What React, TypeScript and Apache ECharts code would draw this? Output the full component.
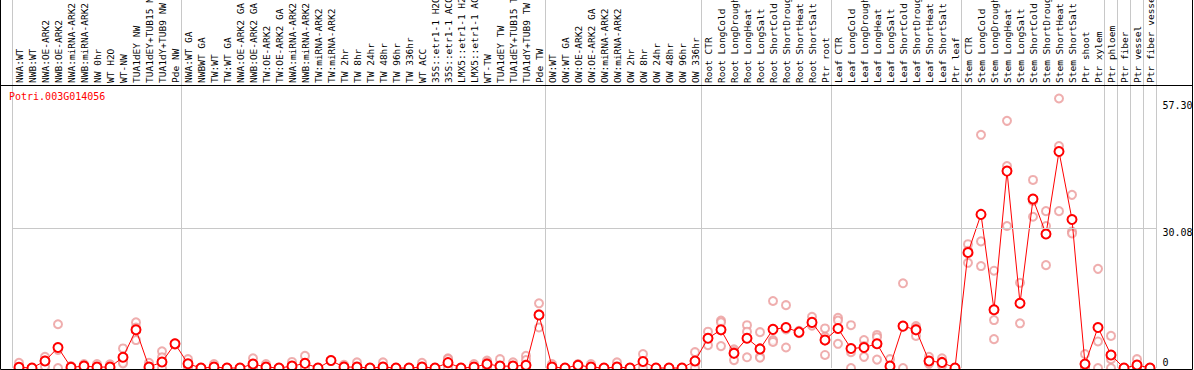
import React, { useEffect, useRef } from "react";
import * as echarts from "echarts";

const title = "Potri.003G014056";

const categories: string[] = [
  "NWA:WT", "NWB:WT", "NWA:OE-ARK2", "NWB:OE-ARK2", "NWA:miRNA-ARK2", "NWB:miRNA-ARK2",
  "NW 0hr", "WT H2O", "WT-NW", "TUA1dEY NW", "TUA1dEY+TUB15 NW", "TUA1dY+TUB9 NW", "Pde NW",
  "NWA:WT GA", "NWBWT GA", "TW:WT", "TW:WT GA", "NWA:OE-ARK2 GA", "NWB:OE-ARK2 GA",
  "TW:OE-ARK2", "TW:OE-ARK2 GA", "NWA:miRNA-ARK2", "NWB:miRNA-ARK2", "TW:miRNA-ARK2",
  "TW:miRNA-ARK2", "TW 2hr", "TW 8hr", "TW 24hr", "TW 48hr", "TW 96hr", "TW 336hr",
  "WT ACC", "35S::etr1-1 H2O", "35S::etr1-1 ACC", "LMX5::etr1-1 H2O", "LMX5::etr1-1 ACC",
  "WT-TW", "TUA1dEY TW", "TUA1dEY+TUB15 TW", "TUA1dY+TUB9 TW", "Pde TW",
  "OW:WT", "OW:WT GA", "OW:OE-ARK2", "OW:OE-ARK2 GA", "OW:miRNA-ARK2", "OW:miRNA-ARK2",
  "OW 2hr", "OW 8hr", "OW 24hr", "OW 48hr", "OW 96hr", "OW 336hr",
  "Root CTR", "Root LongCold", "Root LongDrought", "Root LongHeat", "Root LongSalt",
  "Root ShortCold", "Root ShortDrought", "Root ShortHeat", "Root ShortSalt", "Ptr root",
  "Leaf CTR", "Leaf LongCold", "Leaf LongDrought", "Leaf LongHeat", "Leaf LongSalt",
  "Leaf ShortCold", "Leaf ShortDrought", "Leaf ShortHeat", "Leaf ShortSalt", "Ptr leaf",
  "Stem CTR", "Stem LongCold", "Stem LongDrought", "Stem LongHeat", "Stem LongSalt",
  "Stem ShortCold", "Stem ShortDrought", "Stem ShortHeat", "Stem ShortSalt",
  "Ptr shoot", "Ptr xylem", "Ptr phloem", "Ptr fiber", "Ptr vessel", "Ptr fiber vessel",
];

// first category index of each group (a separator line is drawn at its left edge)
const groupStarts: number[] = [0, 13, 41, 53, 63, 73, 84, 85, 86, 87];

const means: number[] = [
  0.15, 0, 1.5, 4.4, 0.15, 0.4, 0.2, 0.2, 2.3, 8.2, 0.2, 1.3, 5.2,
  0.9, 0, 0.2, 0, 0, 0.86, 0.2, 0, 0.4, 1.0, 0, 1.6, 0.2, 0.2, 0, 0.2, 0, 0,
  0.2, 0, 1.15, 0, 0.2, 0.86, 0.4, 0.4, 0.6, 11.4,
  0.2, 0, 0.6, 0.2, 0, 0.2, 0, 1.4, 0, 0, 0, 1.5,
  6.4, 8.2, 3.15, 6.4, 4.1, 8.3, 8.7, 7.7, 9.8, 6.0,
  8.5, 4.2, 4.4, 5.2, 0.4, 9.0, 8.2, 1.5, 1.2, 0,
  24.8, 33.0, 12.5, 42.3, 13.9, 36.3, 28.8, 46.5, 31.9,
  0.86, 8.7, 2.8, 0, 0.64, 0,
];

const replicates: number[][] = [
  [1.1, 0, 0], [0, 0, 0], [2.4, 1.6, 0.3], [9.4, 3.9, 0], [0.4, 0, 0], [0.85, 0.3, 0],
  [0.85, 0, 0], [0.8, 0, 0], [4.2, 1.3, 1.0], [9.8, 8.7, 6.0], [1.1, 0, 0], [3.6, 2.3, 0], [5.3, 5.1, 5.0],
  [1.9, 0.6, 0.1], [0, 0, 0], [0.85, 0, 0], [0, 0, 0], [0, 0, 0], [2.1, 0.4, 0],
  [0.85, 0, 0], [0, 0, 0], [1.3, 0, 0], [2.6, 0.4, 0], [0, 0, 0],
  [1.7, 1.5, 1.5], [0.7, 0, 0], [1.2, 0, 0], [0, 0, 0], [1.2, 0, 0], [0, 0, 0], [0, 0, 0],
  [1.1, 0, 0], [0, 0, 0], [2.1, 1.9, 0], [0, 0, 0], [0.85, 0, 0],
  [1.6, 1.2, 0], [1.9, 0, 0], [1.2, 0, 0], [2.6, 1.7, 0], [13.9, 11.6, 8.7],
  [0.85, 0, 0], [0, 0, 0], [0.85, 0.6, 0.3], [0.85, 0, 0], [0, 0, 0], [1.2, 0, 0],
  [0, 0, 0], [3.0, 1.0, 0], [0, 0, 0], [0, 0, 0], [0, 0, 0], [3.4, 1.1, 0],
  [7.8, 6.4, 4.9], [10.2, 9.8, 4.7], [4.0, 3.6, 1.7], [9.2, 7.8, 2.3], [7.7, 2.4, 2.2],
  [14.4, 6.0, 5.6], [13.5, 8.3, 4.4], [8.0, 7.6, 7.5], [11.0, 9.3, 9.1], [8.5, 6.7, 2.8],
  [10.8, 10.2, 5.2], [9.2, 3.4, 0], [6.0, 4.7, 2.4], [7.1, 6.6, 1.8], [1.9, 0, 0],
  [18.2, 8.8, 0], [9.0, 8.6, 6.9], [2.4, 1.2, 0.9], [2.1, 1.0, 0.5], [0, 0, 0],
  [26.6, 25.2, 22.6], [50.1, 27.2, 21.9], [20.9, 10.3, 6.2], [53.1, 43.4, 30.5], [18.3, 13.8, 9.6],
  [40.4, 35.9, 32.5], [33.7, 30.5, 22.1], [57.9, 47.7, 33.7], [37.2, 29.3, 28.9],
  [3.0, 0, 0], [21.3, 5.7, 0], [6.9, 1.9, 0], [0, 0, 0], [1.9, 0, 0], [0, 0, 0],
];

const yTickValues: number[] = [0, 30.08, 57.3];
const yMax = 60.8;

const MONO = "DejaVu Sans Mono";
const GRID_LEFT = 12.5;
const GRID_RIGHT = 37.5;
const GRID_TOP = 85;
const GRID_BOTTOM = 2;

export default function App() {
  const ref = useRef<HTMLDivElement>(null);

  useEffect(() => {
    if (!ref.current) return;
    const chart = echarts.init(ref.current, undefined, { renderer: "svg" });

    const repData: [number, number][] = [];
    replicates.forEach((reps, i) => reps.forEach((v) => repData.push([i, v])));

    const splitInterval = (index: number) => groupStarts.indexOf(index) >= 0;
    const splitLine = {
      show: true,
      interval: splitInterval,
      lineStyle: { color: "#c8c8c8", width: 1 },
    };

    chart.setOption({
      animation: false,
      backgroundColor: "#fff",
      title: {
        text: title,
        left: 9,
        top: 91,
        padding: 0,
        textStyle: {
          color: "#ff0000",
          fontFamily: MONO,
          fontSize: 10,
          fontWeight: "normal",
        },
      },
      grid: [
        {
          left: GRID_LEFT,
          right: GRID_RIGHT,
          top: GRID_TOP,
          bottom: GRID_BOTTOM,
          outerBoundsMode: "none",
          containLabel: false,
        },
        {
          left: GRID_LEFT,
          right: GRID_RIGHT,
          top: 0,
          height: GRID_TOP,
          outerBoundsMode: "none",
          containLabel: false,
        },
      ],
      xAxis: [
        {
          type: "category",
          gridIndex: 0,
          position: "top",
          data: categories,
          boundaryGap: true,
          axisLine: { show: false },
          axisTick: { show: false },
          axisLabel: {
            interval: 0,
            rotate: 90,
            margin: 2,
            fontFamily: MONO,
            fontSize: 9.5,
            color: "#000",
            hideOverlap: false,
          },
          splitLine,
        },
        {
          type: "category",
          gridIndex: 1,
          data: categories,
          boundaryGap: true,
          axisLine: { show: false },
          axisTick: { show: false },
          axisLabel: { show: false },
          splitLine,
        },
      ],
      yAxis: [
        {
          type: "value",
          gridIndex: 0,
          position: "right",
          min: 0,
          max: yMax,
          axisLine: { show: false },
          axisTick: { show: false },
          splitLine: { show: false },
          axisLabel: {
            customValues: yTickValues,
            align: "left",
            margin: 6,
            fontFamily: MONO,
            fontSize: 10,
            color: "#000",
            formatter: (v: number) =>
              v === 0 ? "{b|0}" : "{t|" + v.toFixed(2) + "}",
            rich: {
              b: { fontFamily: MONO, fontSize: 10, color: "#000", padding: [0, 0, 12, 0] },
              t: { fontFamily: MONO, fontSize: 10, color: "#000", padding: [9, 0, 0, 0] },
            },
          },
        },
        { type: "value", gridIndex: 1, show: false, min: 0, max: 1 },
      ],
      graphic: [
        {
          type: "polyline",
          silent: true,
          z: 100,
          shape: { points: [[0.5, 0], [0.5, 369.5], [1192.5, 369.5], [1192.5, 0]] },
          style: { stroke: "#000", lineWidth: 1, fill: null },
        },
        {
          type: "line",
          silent: true,
          z: 100,
          shape: { x1: 0, y1: 85.5, x2: 1193, y2: 85.5 },
          style: { stroke: "#000", lineWidth: 1 },
        },
      ],
      series: [
        {
          type: "scatter",
          xAxisIndex: 0,
          yAxisIndex: 0,
          data: repData,
          symbol: "emptyCircle",
          symbolSize: 8,
          itemStyle: { color: "#eb9a9a", borderColor: "#eb9a9a", borderWidth: 1.3 },
          clip: false,
          z: 2,
          markLine: {
            silent: true,
            symbol: "none",
            label: { show: false },
            lineStyle: { color: "#c8c8c8", width: 1, type: "solid" },
            data: [{ yAxis: yTickValues[1] }],
          },
        },
        {
          type: "line",
          xAxisIndex: 0,
          yAxisIndex: 0,
          data: means,
          symbol: "emptyCircle",
          symbolSize: 9,
          showAllSymbol: true,
          lineStyle: { color: "#ff0000", width: 1 },
          itemStyle: { color: "#ff0000", borderColor: "#ff0000", borderWidth: 1.6 },
          clip: false,
          z: 3,
        },
      ],
    });

    return () => chart.dispose();
  }, []);

  return (
    <div
      ref={ref}
      style={{ position: "fixed", left: 0, top: 0, width: 1194, height: 370, background: "#fff" }}
    />
  );
}
